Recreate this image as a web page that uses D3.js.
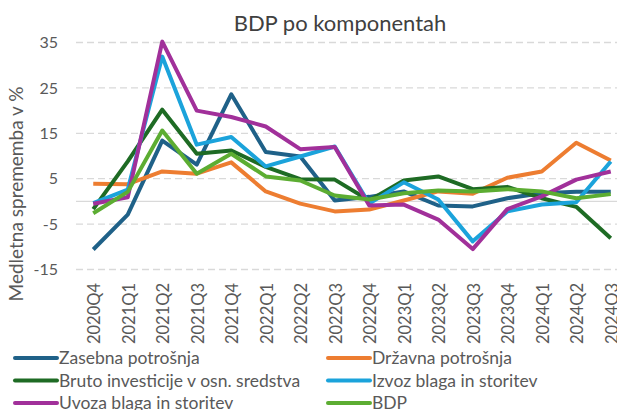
<!DOCTYPE html>
<html>
<head>
  <meta charset="utf-8" />
  <script src="https://d3js.org/d3.v7.min.js"></script>
  <style>
    body{margin:0;background:#fff;}
    svg text{font-family:Lato, "Open Sans", sans-serif;}
  </style>
</head>
<body>
<script>
// quarters on the x axis
var quarters = ["2020Q4","2021Q1","2021Q2","2021Q3","2021Q4","2022Q1","2022Q2","2022Q3",
                "2022Q4","2023Q1","2023Q2","2023Q3","2023Q4","2024Q1","2024Q2","2024Q3"];
var yTicks = [-15,-5,5,15,25,35];

// year-on-year change, %
var zasebna  = [-10.6,-2.9,13.4,8.1,23.6,10.9,9.9,0.2,1.0,2.2,-0.9,-1.1,0.7,1.8,2.1,2.1];
var drzavna  = [3.9,3.8,6.6,6.1,8.6,2.2,-0.5,-2.2,-1.8,0.2,2.2,1.7,5.2,6.6,12.9,9.0];
var bruto    = [-1.7,8.8,20.2,10.5,11.2,7.6,4.9,4.8,0.2,4.6,5.5,2.7,3.2,0.7,-1.2,-8.1];
var izvoz    = [-0.4,2.6,31.9,12.5,14.2,7.7,9.9,12.1,-0.5,4.2,0.4,-8.8,-2.2,-0.7,-0.2,8.8];
var uvoz     = [-0.5,0.9,35.2,20.0,18.6,16.5,11.5,12.0,-0.9,-0.7,-4.0,-10.5,-1.7,1.1,4.8,6.6];
var bdp      = [-2.6,2.1,15.6,6.1,10.5,5.5,4.6,1.3,0.4,1.8,2.4,2.2,2.7,2.2,0.7,1.6];

var seriesNames = ["Zasebna potrošnja","Državna potrošnja","Bruto investicije v osn. sredstva",
                   "Izvoz blaga in storitev","Uvoza blaga in storitev","BDP"];
var seriesValues = [zasebna, drzavna, bruto, izvoz, uvoz, bdp];
var colors = ["#1F6188","#ED7D31","#1E6B24","#1BA3DB","#A1309A","#5CAD32"];

var W = 617, H = 410;
var svg = d3.select("body").append("svg").attr("width",W).attr("height",H);

var x = d3.scaleBand().domain(quarters).range([76,628]);
var y = d3.scaleLinear().domain([-15,35]).range([269.5,42.5]);
var cx = function(q){ return x(q)+x.bandwidth()/2; };

//title
svg.append("text").attr("x",340).attr("y",31).attr("text-anchor","middle")
  .style("font-size","22px").style("fill","#404040").text("BDP po komponentah");

//y axis title
svg.append("text").attr("transform","translate(23,194) rotate(-90)")
  .attr("text-anchor","middle").style("font-size","19px").style("fill","#595959")
  .text("Medletna sprememba v %");

//grid
svg.append("g").selectAll("line").data(yTicks).enter().append("line")
  .attr("x1",76).attr("x2",628)
  .attr("y1",function(d){return y(d)}).attr("y2",function(d){return y(d)})
  .style("stroke","#d9d9d9").style("stroke-width",1.3).style("stroke-dasharray","7,4");
svg.append("line").attr("x1",76).attr("x2",628).attr("y1",y(0)).attr("y2",y(0))
  .style("stroke","#d9d9d9").style("stroke-width",1.3);

//y tick labels
svg.append("g").selectAll("text").data(yTicks).enter().append("text")
  .attr("x",58).attr("y",function(d){return y(d)}).attr("dy","0.35em")
  .attr("text-anchor","end").style("font-size","16px").style("fill","#595959")
  .text(function(d){return d});

//x tick labels
svg.append("g").selectAll("text").data(quarters).enter().append("text")
  .attr("transform",function(d){return "translate("+(cx(d)+1)+",283) rotate(-90)"})
  .attr("dy","0.35em").attr("text-anchor","end")
  .style("font-size","16.5px").style("fill","#595959").text(function(d){return d});

//lines
var line = d3.line().x(function(d,i){return cx(quarters[i])}).y(function(d){return y(d)});
svg.append("g").selectAll("path").data(seriesValues).enter().append("path")
  .attr("d",line).style("fill","none")
  .style("stroke",function(d,i){return colors[i]})
  .style("stroke-width",4).style("stroke-linejoin","round");

//legend
var leg = svg.append("g").selectAll("g").data(seriesNames).enter().append("g")
  .attr("transform",function(d,i){return "translate("+(i%2? 328:15)+","+(358+Math.floor(i/2)*22.5)+")"});
leg.append("line").attr("x1",0).attr("x2",42)
  .style("stroke",function(d,i){return colors[i]}).style("stroke-width",4).style("stroke-linecap","round");
leg.append("text").attr("x",44).attr("dy","0.35em")
  .style("font-size","17.5px").style("fill","#595959").text(function(d){return d});
</script>
</body>
</html>
